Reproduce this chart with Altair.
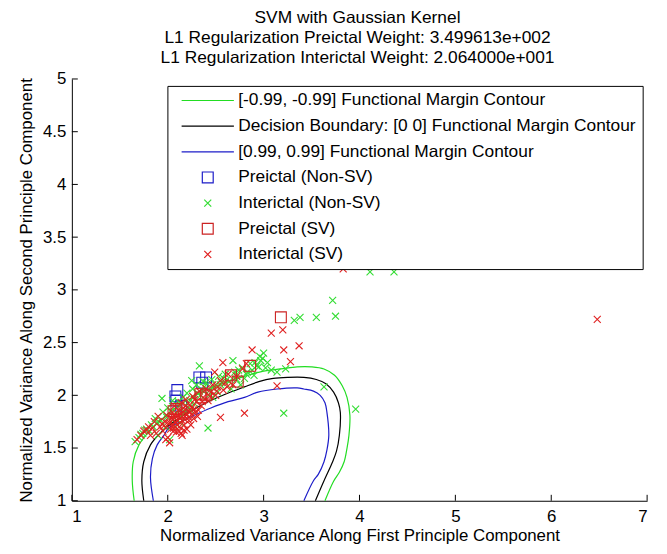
import altair as alt
import pandas as pd

FONT = "Liberation Sans"

SERIES = [
    "[-0.99, -0.99] Functional Margin Contour",
    "Decision Boundary: [0 0] Functional Margin Contour",
    "[0.99, 0.99] Functional Margin Contour",
    "Preictal (Non-SV)",
    "Interictal (Non-SV)",
    "Preictal (SV)",
    "Interictal (SV)",
]
COLORS = ["#22dd22", "#000000", "#1c1cc8", "#1c1cc8", "#33dd33", "#cc2222", "#e02020"]
LINE = "M-4.8,0H4.8"
SQUARE = "M-1,-1H1V1H-1Z"
CROSS = "M-0.64,-0.64L0.64,0.64M-0.64,0.64L0.64,-0.64"
SHAPES = [LINE, LINE, LINE, SQUARE, CROSS, SQUARE, CROSS]

# contour lines
neg_x = [1.65, 1.63, 1.64, 1.70, 1.80, 1.92, 2.05, 2.20, 2.40, 2.60, 2.80, 3.00, 3.18, 3.35,
         3.50, 3.63, 3.74, 3.82, 3.87, 3.90, 3.89, 3.87, 3.84, 3.79, 3.73, 3.64]
neg_y = [1.00, 1.19, 1.37, 1.53, 1.65, 1.76, 1.86, 1.95, 2.05, 2.12, 2.18, 2.23, 2.25, 2.27,
         2.27, 2.25, 2.19, 2.09, 1.98, 1.81, 1.62, 1.50, 1.37, 1.27, 1.185, 1.00]
zero_x = [1.75, 1.73, 1.75, 1.82, 1.92, 2.05, 2.20, 2.40, 2.60, 2.80, 2.95, 3.10, 3.25, 3.42,
          3.55, 3.65, 3.73, 3.78, 3.80, 3.79, 3.76, 3.72, 3.63, 3.54]
zero_y = [1.00, 1.19, 1.37, 1.53, 1.64, 1.74, 1.83, 1.93, 2.01, 2.08, 2.13, 2.16, 2.17, 2.17,
          2.15, 2.11, 2.03, 1.93, 1.84, 1.62, 1.47, 1.37, 1.19, 1.00]
pos_x = [1.85, 1.82, 1.84, 1.89, 1.96, 2.01, 2.11, 2.25, 2.45, 2.63, 2.80, 2.94, 3.14, 3.35,
         3.42, 3.52, 3.59, 3.64, 3.66, 3.68, 3.66, 3.63, 3.57, 3.52, 3.42]
pos_y = [1.00, 1.22, 1.40, 1.53, 1.62, 1.69, 1.74, 1.80, 1.88, 1.94, 1.98, 2.03, 2.06, 2.07,
         2.06, 2.04, 2.00, 1.93, 1.84, 1.62, 1.48, 1.37, 1.25, 1.19, 1.00]

# Preictal (Non-SV): blue squares
pre_nsv_x = [2.08, 2.10, 2.09, 2.14, 2.33, 2.36, 2.40]
pre_nsv_y = [1.99, 2.05, 1.95, 1.90, 2.17, 2.12, 2.17]

# Interictal (Non-SV): green crosses
int_nsv_x = [1.66, 1.70, 1.74, 1.78, 1.83, 1.87, 1.90, 1.94, 1.95, 1.98, 2.00, 2.02, 2.05, 2.08,
             2.12, 2.16, 2.18, 2.20, 2.23, 2.26, 2.28, 2.30, 2.33, 2.34, 2.38, 2.40, 2.42, 2.44,
             2.46, 2.50, 2.53, 2.56, 2.60, 2.62, 2.66, 2.68, 2.70, 2.72, 2.76, 2.78, 2.80, 2.83,
             2.86, 2.90, 2.93, 2.96, 2.97, 3.00, 3.02, 3.04, 3.08, 3.14, 3.23, 3.21, 3.63, 3.96,
             3.32, 3.38, 3.55, 3.75, 3.72, 4.11, 4.36, 2.09, 2.24, 2.52,
             1.72, 1.76, 1.81, 1.85, 1.89, 1.93, 1.99, 2.03, 2.06, 2.11, 2.14, 2.19, 2.22, 2.27,
             2.31, 2.36, 2.43, 2.48, 2.55, 2.58, 2.64, 2.71, 2.74, 2.82, 2.88, 2.91, 2.95, 2.99,
             2.13, 2.25, 2.37, 2.47]
int_nsv_y = [1.56, 1.60, 1.64, 1.68, 1.72, 1.78, 1.62, 1.97, 1.84, 1.70, 1.88, 1.58, 1.95, 1.70,
             1.90, 1.98, 1.84, 2.02, 1.95, 2.06, 1.92, 2.10, 2.28, 2.00, 2.08, 2.12, 1.69, 2.05,
             2.15, 2.10, 2.18, 2.12, 2.20, 2.15, 2.06, 2.33, 2.22, 2.15, 2.10, 2.26, 2.16, 2.22,
             2.30, 2.19, 2.28, 2.37, 2.33, 2.40, 2.26, 2.31, 2.24, 2.22, 2.25, 1.83, 2.08, 1.87,
             2.71, 2.74, 2.74, 2.75, 2.90, 3.17, 3.17, 1.83, 1.86, 2.03,
             1.63, 1.67, 1.66, 1.70, 1.74, 1.76, 1.79, 1.85, 1.77, 1.94, 1.80, 1.90, 1.88, 1.98,
             2.02, 2.05, 2.00, 2.07, 2.10, 2.16, 2.13, 2.19, 2.24, 2.20, 2.24, 2.31, 2.27, 2.35,
             1.74, 2.14, 2.13, 1.98]

# Preictal (SV): red squares
pre_sv_x = [3.18, 2.66, 2.73, 2.86, 2.34, 2.40, 2.09, 2.06, 2.35]
pre_sv_y = [2.74, 2.19, 2.13, 2.28, 2.01, 2.00, 1.87, 1.85, 1.98]

# Interictal (SV): red crosses
int_sv_x = [1.68, 1.72, 1.75, 1.80, 1.82, 1.86, 1.88, 1.90, 1.92, 1.95, 1.97, 2.00, 2.02, 2.03,
            2.04, 2.05, 2.06, 2.07, 2.08, 2.09, 2.10, 2.11, 2.12, 2.13, 2.14, 2.15, 2.15, 2.16,
            2.17, 2.18, 2.19, 2.20, 2.21, 2.22, 2.23, 2.24, 2.25, 2.26, 2.27, 2.28, 2.30, 2.31,
            2.33, 2.35, 2.37, 2.40, 2.42, 2.45, 2.47, 2.50, 2.52, 2.55, 2.58, 2.60, 2.63, 2.68,
            2.72, 2.78, 2.82, 2.49, 2.575, 2.88, 3.08, 3.20, 3.21, 3.37, 3.28, 3.14, 2.80, 2.55,
            3.83, 6.48, 2.14, 2.01, 1.98, 2.06,
            1.78, 1.84, 1.94, 1.99, 2.02, 2.05, 2.08, 2.11, 2.13, 2.16, 2.18, 2.20, 2.23, 2.25,
            2.29, 2.32, 2.06, 2.10, 2.17, 2.22, 1.96, 2.12, 2.19, 2.28, 2.36, 2.44, 2.51, 2.62]
int_sv_y = [1.58, 1.62, 1.66, 1.70, 1.62, 1.75, 1.64, 1.80, 1.70, 1.66, 1.75, 1.60, 1.55, 1.68,
            1.78, 1.84, 1.72, 1.90, 1.80, 1.65, 1.76, 1.86, 1.70, 1.82, 1.93, 1.62, 1.76, 1.88,
            1.72, 1.80, 1.96, 1.68, 1.85, 1.76, 1.91, 1.72, 1.82, 1.99, 1.78, 1.87, 1.94, 1.80,
            2.04, 1.90, 1.98, 2.06, 1.95, 2.03, 2.10, 2.00, 2.08, 2.14, 2.05, 2.12, 2.20, 2.10,
            2.18, 2.25, 2.30, 2.22, 2.31, 2.43, 2.59, 2.62, 2.43, 2.47, 2.32, 2.09, 1.83, 1.79,
            3.20, 2.72, 1.64, 1.73, 1.58, 1.66,
            1.67, 1.69, 1.73, 1.81, 1.74, 1.80, 1.75, 1.81, 1.78, 1.84, 1.77, 1.82, 1.84, 1.88,
            1.84, 1.86, 1.69, 1.72, 1.67, 1.79, 1.71, 1.66, 1.90, 1.96, 1.94, 1.99, 2.04, 2.08]

x_ticks = [1, 2, 3, 4, 5, 6, 7]
y_ticks = [1, 1.5, 2, 2.5, 3, 3.5, 4, 4.5, 5]

TITLE = [
    "SVM with Gaussian Kernel",
    "L1 Regularization Preictal Weight: 3.499613e+002",
    "L1 Regularization Interictal Weight: 2.064000e+001",
]

# ---- tables ----
contour_rows = []
for name, xs_, ys_ in [(SERIES[0], neg_x, neg_y), (SERIES[1], zero_x, zero_y), (SERIES[2], pos_x, pos_y)]:
    for i, (a, b) in enumerate(zip(xs_, ys_)):
        contour_rows.append({"series": name, "x": a, "y": b, "i": i})
contours = pd.DataFrame(contour_rows)

point_rows = []
for name, xs_, ys_ in [(SERIES[3], pre_nsv_x, pre_nsv_y), (SERIES[4], int_nsv_x, int_nsv_y),
                       (SERIES[5], pre_sv_x, pre_sv_y), (SERIES[6], int_sv_x, int_sv_y)]:
    for a, b in zip(xs_, ys_):
        point_rows.append({"series": name, "x": a, "y": b})
points = pd.DataFrame(point_rows)
points["k"] = range(len(points))

W, H = 581, 426

xscale = alt.Scale(domain=[1, 7], nice=False, zero=False)
yscale = alt.Scale(domain=[1, 5], nice=False, zero=False)
cscale = alt.Scale(domain=SERIES, range=COLORS)
sscale = alt.Scale(domain=SERIES, range=SHAPES)

xaxis = alt.Axis(values=x_ticks, title="Normalized Variance Along First Principle Component",
                 ticks=False, tickSize=0, grid=False, labelPadding=8, titlePadding=3, format="~g")
yaxis = alt.Axis(values=y_ticks, title="Normalized Variance Along Second Principle Component",
                 ticks=False, tickSize=0, grid=False, labelPadding=6, format="~g",
                 titleX=-37, titleY=H / 2, titleAngle=270, titleBaseline="bottom")

leg = alt.Legend(title=None, orient="none", legendX=96.5, legendY=7, padding=6,
                 symbolOffset=26, labelOffset=22, rowPadding=6.9,
                 labelFont=FONT, labelFontSize=17.5, labelColor="black", labelLimit=600,
                 symbolSize=121, symbolStrokeWidth=1.2, strokeColor="black", fillColor="white")

X = alt.X("x:Q", scale=xscale, axis=xaxis)
Y = alt.Y("y:Q", scale=yscale, axis=yaxis)

lines = alt.Chart(contours).mark_line(strokeWidth=1.2, interpolate="catmull-rom").encode(
    x=X, y=Y,
    color=alt.Color("series:N", scale=cscale, legend=leg),
    detail="series:N",
    order="i:Q",
)

pts = alt.Chart(points).mark_point(filled=False, size=121, strokeWidth=1.1, opacity=1).encode(
    x=X, y=Y,
    color=alt.Color("series:N", scale=cscale, legend=leg),
    shape=alt.Shape("series:N", scale=sscale, legend=leg),
    order="k:Q",
)

xt = alt.Chart(pd.DataFrame({"x": x_ticks})).mark_rule(color="black", strokeWidth=1).encode(
    x=X, y=alt.value(H), y2=alt.value(H - 6)
)
yt = alt.Chart(pd.DataFrame({"y": y_ticks})).mark_rule(color="black", strokeWidth=1).encode(
    y=Y, x=alt.value(0), x2=alt.value(6)
)

chart = alt.layer(lines, pts, xt, yt).properties(
    width=W, height=H,
    background="white",
    title=alt.TitleParams(text=TITLE, font=FONT, fontSize=17.5, fontWeight="normal",
                          lineHeight=20, offset=4, color="black", anchor="middle", dx=-2),
    autosize=alt.AutoSizeParams(type="none"),
    padding={"left": 64.5, "top": 69, "right": 12, "bottom": 43},
).configure_view(stroke=None).configure_axis(
    labelFont=FONT, titleFont=FONT, labelFontSize=17, titleFontSize=17,
    titleFontWeight="normal", labelColor="black", titleColor="black",
    domainColor="black", domainWidth=1,
)

chart.save("out.html", embed_options={"renderer": "svg", "actions": False})
